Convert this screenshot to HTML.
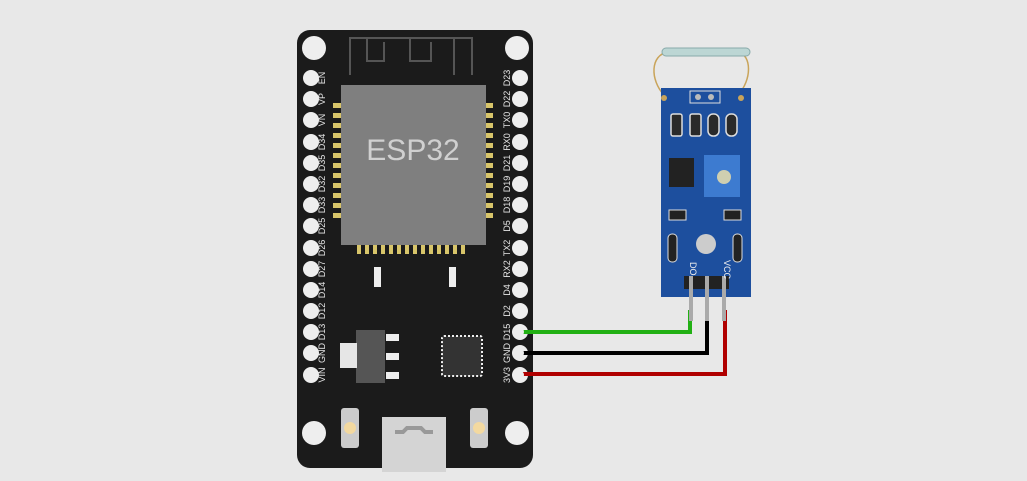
<!DOCTYPE html>
<html><head><meta charset="utf-8"><style>
html,body{margin:0;padding:0;background:#e8e8e8;}
svg{display:block}
text{font-family:"Liberation Sans",sans-serif;}
</style></head><body>
<svg width="1027" height="481" viewBox="0 0 1027 481" xmlns="http://www.w3.org/2000/svg">
<rect width="1027" height="481" fill="#e8e8e8"/>
<!-- ESP32 board -->
<rect x="297" y="30" width="236" height="438" rx="13" fill="#1b1b1b"/>
<!-- antenna -->
<path d="M350 75 V38 H472 V75 M367 38 V61 H384 V42 M410 38 V61 H431 V42 M454 38 V75" fill="none" stroke="#555" stroke-width="2"/>
<!-- module pads -->
<g fill="#d8c56a">
<rect x="333" y="103" width="8" height="5"/><rect x="333" y="113" width="8" height="5"/><rect x="333" y="123" width="8" height="5"/><rect x="333" y="133" width="8" height="5"/><rect x="333" y="143" width="8" height="5"/><rect x="333" y="153" width="8" height="5"/><rect x="333" y="163" width="8" height="5"/><rect x="333" y="173" width="8" height="5"/><rect x="333" y="183" width="8" height="5"/><rect x="333" y="193" width="8" height="5"/><rect x="333" y="203" width="8" height="5"/><rect x="333" y="213" width="8" height="5"/>
<rect x="485" y="103" width="8" height="5"/><rect x="485" y="113" width="8" height="5"/><rect x="485" y="123" width="8" height="5"/><rect x="485" y="133" width="8" height="5"/><rect x="485" y="143" width="8" height="5"/><rect x="485" y="153" width="8" height="5"/><rect x="485" y="163" width="8" height="5"/><rect x="485" y="173" width="8" height="5"/><rect x="485" y="183" width="8" height="5"/><rect x="485" y="193" width="8" height="5"/><rect x="485" y="203" width="8" height="5"/><rect x="485" y="213" width="8" height="5"/>
<rect x="357" y="244" width="4" height="10"/><rect x="365" y="244" width="4" height="10"/><rect x="373" y="244" width="4" height="10"/><rect x="381" y="244" width="4" height="10"/><rect x="389" y="244" width="4" height="10"/><rect x="397" y="244" width="4" height="10"/><rect x="405" y="244" width="4" height="10"/><rect x="413" y="244" width="4" height="10"/><rect x="421" y="244" width="4" height="10"/><rect x="429" y="244" width="4" height="10"/><rect x="437" y="244" width="4" height="10"/><rect x="445" y="244" width="4" height="10"/><rect x="453" y="244" width="4" height="10"/><rect x="461" y="244" width="4" height="10"/>
</g>
<rect x="341" y="85" width="145" height="160" fill="#7f7f7f"/>
<text x="413" y="160" font-size="30" fill="#d0d0d0" text-anchor="middle">ESP32</text>
<rect x="374" y="267" width="7" height="20" fill="#eee"/><rect x="449" y="267" width="7" height="20" fill="#eee"/>
<!-- regulator -->
<rect x="356" y="330" width="29" height="53" fill="#555"/>
<rect x="340" y="343" width="17" height="25" fill="#e6e6e6"/>
<rect x="386" y="334" width="13" height="7" fill="#eee"/><rect x="386" y="353" width="13" height="7" fill="#eee"/><rect x="386" y="372" width="13" height="7" fill="#eee"/>
<!-- QFN -->
<rect x="442" y="336" width="40" height="40" rx="2" fill="#333" stroke="#eee" stroke-width="2" stroke-dasharray="2 2"/>
<rect x="446" y="340" width="32" height="32" fill="#333"/>
<!-- buttons -->
<rect x="341" y="408" width="18" height="40" rx="3" fill="#ccc"/><circle cx="350" cy="428" r="6" fill="#f3d9a0"/>
<rect x="470" y="408" width="18" height="40" rx="3" fill="#ccc"/><circle cx="479" cy="428" r="6" fill="#f3d9a0"/>
<!-- usb -->
<rect x="382" y="417" width="64" height="55" fill="#d4d4d4"/>
<path d="M395 432 h8 l4 -4 h14 l4 4 h8" stroke="#999" stroke-width="4" fill="none"/>
<!-- corner holes -->
<g fill="#eee"><circle cx="314" cy="48" r="12"/><circle cx="517" cy="48" r="12"/><circle cx="314" cy="433" r="12"/><circle cx="517" cy="433" r="12"/></g>
<!-- pin holes -->
<g fill="#eee">
<circle cx="311" cy="78" r="8"/><circle cx="311" cy="99" r="8"/><circle cx="311" cy="120" r="8"/><circle cx="311" cy="142" r="8"/><circle cx="311" cy="163" r="8"/><circle cx="311" cy="184" r="8"/><circle cx="311" cy="205" r="8"/><circle cx="311" cy="226" r="8"/><circle cx="311" cy="248" r="8"/><circle cx="311" cy="269" r="8"/><circle cx="311" cy="290" r="8"/><circle cx="311" cy="311" r="8"/><circle cx="311" cy="332" r="8"/><circle cx="311" cy="353" r="8"/><circle cx="311" cy="375" r="8"/>
<circle cx="520" cy="78" r="8"/><circle cx="520" cy="99" r="8"/><circle cx="520" cy="120" r="8"/><circle cx="520" cy="142" r="8"/><circle cx="520" cy="163" r="8"/><circle cx="520" cy="184" r="8"/><circle cx="520" cy="205" r="8"/><circle cx="520" cy="226" r="8"/><circle cx="520" cy="248" r="8"/><circle cx="520" cy="269" r="8"/><circle cx="520" cy="290" r="8"/><circle cx="520" cy="311" r="8"/><circle cx="520" cy="332" r="8"/><circle cx="520" cy="353" r="8"/><circle cx="520" cy="375" r="8"/>
</g>
<g font-size="9" fill="#e6e6e6" text-anchor="middle">
<text transform="translate(325,78) rotate(-90)">EN</text>
<text transform="translate(325,99) rotate(-90)">VP</text>
<text transform="translate(325,120) rotate(-90)">VN</text>
<text transform="translate(325,142) rotate(-90)">D34</text>
<text transform="translate(325,163) rotate(-90)">D35</text>
<text transform="translate(325,184) rotate(-90)">D32</text>
<text transform="translate(325,205) rotate(-90)">D33</text>
<text transform="translate(325,226) rotate(-90)">D25</text>
<text transform="translate(325,248) rotate(-90)">D26</text>
<text transform="translate(325,269) rotate(-90)">D27</text>
<text transform="translate(325,290) rotate(-90)">D14</text>
<text transform="translate(325,311) rotate(-90)">D12</text>
<text transform="translate(325,332) rotate(-90)">D13</text>
<text transform="translate(325,353) rotate(-90)">GND</text>
<text transform="translate(325,375) rotate(-90)">VIN</text>
<text transform="translate(510,78) rotate(-90)">D23</text>
<text transform="translate(510,99) rotate(-90)">D22</text>
<text transform="translate(510,120) rotate(-90)">TX0</text>
<text transform="translate(510,142) rotate(-90)">RX0</text>
<text transform="translate(510,163) rotate(-90)">D21</text>
<text transform="translate(510,184) rotate(-90)">D19</text>
<text transform="translate(510,205) rotate(-90)">D18</text>
<text transform="translate(510,226) rotate(-90)">D5</text>
<text transform="translate(510,248) rotate(-90)">TX2</text>
<text transform="translate(510,269) rotate(-90)">RX2</text>
<text transform="translate(510,290) rotate(-90)">D4</text>
<text transform="translate(510,311) rotate(-90)">D2</text>
<text transform="translate(510,332) rotate(-90)">D15</text>
<text transform="translate(510,353) rotate(-90)">GND</text>
<text transform="translate(510,375) rotate(-90)">3V3</text>
</g>
<!-- wires -->
<path d="M520 332 H690 V310" stroke="#22b014" stroke-width="4" fill="none"/>
<path d="M520 353 H707 V310" stroke="#000" stroke-width="4" fill="none"/>
<path d="M520 374 H725 V310" stroke="#b00000" stroke-width="4" fill="none"/>
<circle cx="520" cy="332" r="4" fill="#eee"/><circle cx="520" cy="353" r="4" fill="#eee"/><circle cx="520" cy="375" r="4" fill="#eee"/>
<!-- sensor -->
<path d="M664 95 C650 80 650 55 668 52 M738 95 C752 80 752 55 738 52" stroke="#c9a45a" stroke-width="1.5" fill="none"/>
<rect x="662" y="48" width="88" height="8" rx="4" fill="#bcd6d4" stroke="#8aa" stroke-width="1"/>
<rect x="661" y="88" width="90" height="209" fill="#1d4f9e"/>
<circle cx="664" cy="98" r="3" fill="#c9a45a"/><circle cx="741" cy="98" r="3" fill="#c9a45a"/>
<rect x="690" y="91" width="30" height="12" fill="none" stroke="#ddd"/>
<circle cx="698" cy="97" r="3" fill="#bbb"/><circle cx="711" cy="97" r="3" fill="#bbb"/>
<g fill="#2a2a2a" stroke="#ddd" stroke-width="1.5">
<rect x="671" y="114" width="11" height="22" rx="2"/><rect x="690" y="114" width="11" height="22" rx="2"/>
<rect x="708" y="114" width="11" height="22" rx="5"/><rect x="726" y="114" width="11" height="22" rx="5"/>
</g>
<rect x="669" y="158" width="25" height="29" fill="#222"/>
<rect x="704" y="155" width="36" height="42" fill="#3d7bd0"/>
<circle cx="724" cy="177" r="7" fill="#cfcfb0"/>
<g fill="#222" stroke="#ddd"><rect x="669" y="210" width="17" height="10"/><rect x="724" y="210" width="17" height="10"/><rect x="668" y="234" width="9" height="28" rx="4"/><rect x="733" y="234" width="9" height="28" rx="4"/></g>
<circle cx="706" cy="244" r="10" fill="#ccc"/>
<rect x="684" y="276" width="45" height="13" fill="#222"/>
<rect x="689" y="276" width="4" height="45" fill="#aaa"/><rect x="705" y="276" width="4" height="45" fill="#aaa"/><rect x="722" y="276" width="4" height="45" fill="#aaa"/>
<text transform="translate(690,262) rotate(90)" font-size="9" fill="#eee">DO</text>
<text transform="translate(724,260) rotate(90)" font-size="9" fill="#eee">VCC</text>
</svg>
</body></html>
